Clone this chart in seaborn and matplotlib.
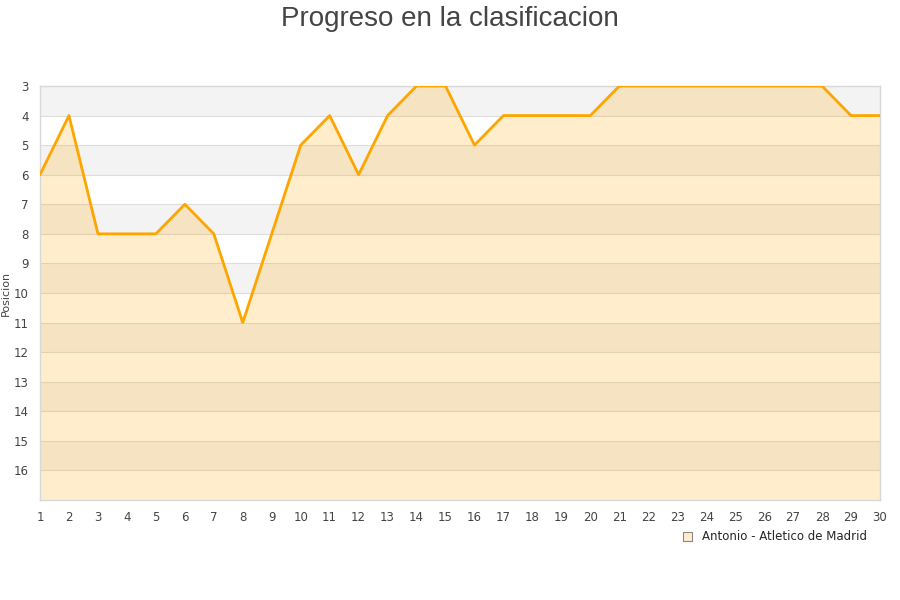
import matplotlib
matplotlib.use('Agg')
import matplotlib.pyplot as plt
from matplotlib.patches import Patch
import seaborn as sns
import pandas as pd

jornadas = list(range(1, 31))
posiciones = [6, 4, 8, 8, 8, 7, 8, 11, 8, 5, 4, 6, 4, 3, 3, 5, 4, 4, 4, 4,
              3, 3, 3, 3, 3, 3, 3, 3, 4, 4]
equipo = 'Antonio - Atletico de Madrid'
y_ticks = list(range(3, 17))

df = pd.DataFrame({'jornada': jornadas, 'posicion': posiciones})

sns.set_style('white')
plt.rcParams['font.family'] = ['DejaVu Sans']

fig = plt.figure(figsize=(9, 6), dpi=100)
ax = fig.add_axes([40 / 900, 100 / 600, 840 / 900, 414 / 600])

y_min, y_max = 3, 17
# bandas alternas
for i in range(y_min, y_max):
    if (i - y_min) % 2 == 0:
        ax.axhspan(i, i + 1, color='#f3f3f3', lw=0, zorder=0)
for i in range(y_min, y_max):
    ax.axhline(i, color='#dddddd', lw=0.8, zorder=1)

ax.fill_between(df['jornada'], df['posicion'], y_max, color='#ffa500',
                alpha=0.2, lw=0, zorder=2)
sns.lineplot(data=df, x='jornada', y='posicion', color='#ffa500', lw=2,
             ax=ax, zorder=3)

ax.set_xlim(1, 30)
ax.set_ylim(y_max, y_min)
ax.set_xticks(jornadas)
ax.set_yticks(y_ticks)
ax.tick_params(axis='both', labelsize=8.5, colors='#444444', length=0)
ax.tick_params(axis='x', pad=8)
ax.tick_params(axis='y', pad=8)
ax.set_xlabel('')
ax.set_ylabel('Posicion', fontsize=8, color='#444444', va='center')
ax.yaxis.set_label_coords(-0.041, 0.5)

for s in ax.spines.values():
    s.set_color('#d8d8d8')
    s.set_linewidth(1)

fig.suptitle('Progreso en la clasificacion', fontsize=20, color='#444444',
             y=0.99, family=['Liberation Sans', 'DejaVu Sans'])

handle = Patch(facecolor='#ffedcc', edgecolor='#888888', lw=0.8)
fig.legend([handle], [equipo], loc='center right',
           bbox_to_anchor=(0.975, 0.105), frameon=False, fontsize=8.5,
           handlelength=0.8, handleheight=0.8, handletextpad=0.8)

fig.savefig('out.png', dpi=100)
